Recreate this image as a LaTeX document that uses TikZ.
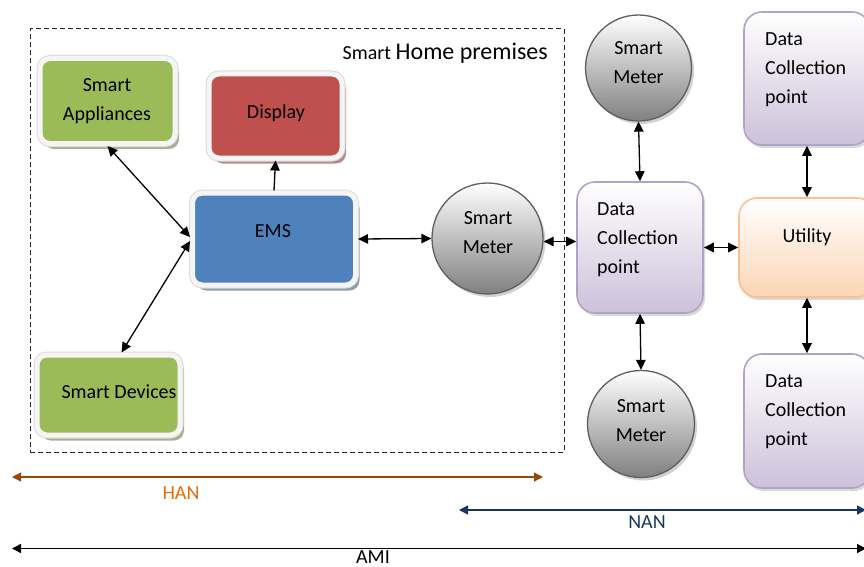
\documentclass[tikz,border=0pt]{standalone}
\usepackage{fontspec}
\setmainfont{Carlito}
\usetikzlibrary{arrows.meta,shadows}
\definecolor{appgreen}{HTML}{9BBB59}
\definecolor{dispred}{HTML}{C0504D}
\definecolor{emsblue}{HTML}{4F81BD}
\definecolor{dcpline}{HTML}{B3A2C7}
\definecolor{dcpfill}{HTML}{CCC1DA}
\definecolor{utline}{HTML}{FAC090}
\definecolor{utfill}{HTML}{FCD5B5}
\definecolor{hanline}{HTML}{984807}
\definecolor{hantext}{HTML}{E46C0A}
\definecolor{nanblue}{HTML}{17375E}
\definecolor{meterline}{HTML}{5F5F5F}
\begin{document}
\begin{tikzpicture}[x=1pt,y=-1pt,
  font=\fontsize{20}{29}\selectfont,
  framedbox/.style={rounded corners=10pt, inner sep=0pt,
    drop shadow={shadow xshift=4pt, shadow yshift=-5.5pt, fill=#1!45!gray!85, opacity=.9},
    preaction={draw=black!14, line width=7pt},
    draw=black!4, line width=5pt, fill=#1},
  meter/.style={circle, inner sep=0pt, minimum size=#1,
    drop shadow={shadow xshift=2.5pt, shadow yshift=-3pt, fill=black!30, opacity=.6},
    draw=meterline, line width=1.3pt, top color=white, bottom color=black!50},
  dcp/.style={rounded corners=18pt, inner sep=0pt, minimum width=126pt, minimum height=#1,
    drop shadow={shadow xshift=2pt, shadow yshift=-3pt, fill=black!25, opacity=.6},
    draw=dcpline, line width=1.6pt, top color=white, bottom color=dcpfill},
  txt/.style={inner sep=0pt, align=center},
  ltxt/.style={inner sep=0pt, align=left, anchor=north west},
  arr/.style={line width=1.3pt, {Triangle[length=10pt,width=9.5pt]}-{Triangle[length=10pt,width=9.5pt]}},
  sarr/.style={line width=1.3pt, -{Triangle[length=10pt,width=9.5pt]}},
  netrange/.style={line width=1.3pt, {Triangle[length=9pt,width=9pt]}-{Triangle[length=9pt,width=9pt]}}
]
\useasboundingbox (0,0) rectangle (864,567);

% Smart Home premises container
\node[draw=black!85, dash pattern=on 5pt off 3pt, line width=1pt, minimum width=534pt, minimum height=423pt, inner sep=0pt] (home) at (297,240.5) {};
\node[anchor=base east, inner sep=0pt] (title) at (548,59.5) {{\fontsize{20}{24}\selectfont Smart} {\fontsize{24}{29}\selectfont Home premises}};

% HAN boxes
\node[framedbox=appgreen, minimum width=135pt, minimum height=85pt] (app) at (107.5,101) {};
\node[txt, anchor=north] (appt) at (107,78) {Smart\\Appliances};

\node[framedbox=dispred, minimum width=133pt, minimum height=84pt] (disp) at (275.5,116) {};
\node[txt, anchor=base] (dispt) at (276,119) {Display};

\node[framedbox=emsblue, minimum width=163pt, minimum height=92pt] (ems) at (274,239) {};
\node[txt, anchor=base] (emst) at (273,237) {EMS};

\node[framedbox=appgreen, minimum width=143pt, minimum height=80pt] (dev) at (108.5,395) {};
\node[txt, anchor=base] (devt) at (119,398) {Smart Devices};

% Smart meters
\node[meter=111pt] (sm1) at (487.5,238.5) {};
\node[txt, anchor=north] (sm1t) at (488,211) {Smart\\Meter};

\node[meter=106pt] (sm2) at (638.5,68) {};
\node[txt, anchor=north] (sm2t) at (638.5,41) {Smart\\Meter};

\node[meter=107pt] (sm3) at (641,424) {};
\node[txt, anchor=north] (sm3t) at (641,399) {Smart\\Meter};

% Data collection points
\node[dcp=131pt] (dcp) at (640,247.5) {};
\node[ltxt] (dcpt) at (597,202) {Data\\Collection\\point};

\node[dcp=133pt] (dcpT) at (807,78.5) {};
\node[ltxt] (dcpTt) at (765,32) {Data\\Collection\\point};

\node[dcp=134pt] (dcpB) at (807,421) {};
\node[ltxt] (dcpBt) at (765,374) {Data\\Collection\\point};

% Utility
\node[rounded corners=18pt, inner sep=0pt, minimum width=136pt, minimum height=99pt,
  drop shadow={shadow xshift=2pt, shadow yshift=-3pt, fill=black!25, opacity=.6},
  draw=utline, line width=1.6pt, top color=white, bottom color=utfill] (ut) at (807,247.5) {};
\node[txt, anchor=base] (utt) at (807,242) {Utility};

% connectors
\draw[arr] (app.south) -- ([yshift=2pt]ems.west);
\draw[arr] ([xshift=13pt]dev.north) -- ([yshift=-2pt]ems.west);
\draw[sarr] (ems.north) -- (disp.south);
\draw[arr] (ems.east) -- (sm1.west);
\draw[arr] ([yshift=-3pt]sm1.east) -- ([yshift=-3pt]sm1.east -| dcp.west);
\draw[arr] (sm2.south) -- (dcp.north);
\draw[arr] (dcp.south) -- (sm3.north);
\draw[arr] (dcp.east) -- (ut.west);
\draw[arr] (ut.north) -- (dcpT.south);
\draw[arr] (ut.south) -- (dcpB.north);

% network ranges
\coordinate (hanL) at (12,477);
\coordinate (hanR) at (543,477);
\coordinate (nanL) at (459,510);
\coordinate (nanR) at (866,510);
\coordinate (amiL) at (12,548.5);
\coordinate (amiR) at (866,548.5);
\draw[netrange, draw=hanline, fill=hanline] (hanL) -- (hanR);
\draw[netrange, draw=nanblue, fill=nanblue] (nanL) -- (nanR);
\draw[netrange, draw=black] (amiL) -- (amiR);
\node[txt, anchor=base] (ami) at (373,563) {AMI};
\node[txt, anchor=base, text=hantext] (han) at (181,499) {HAN};
\node[txt, anchor=base, text=nanblue] (nan) at (647,528) {NAN};
\end{tikzpicture}
\end{document}
